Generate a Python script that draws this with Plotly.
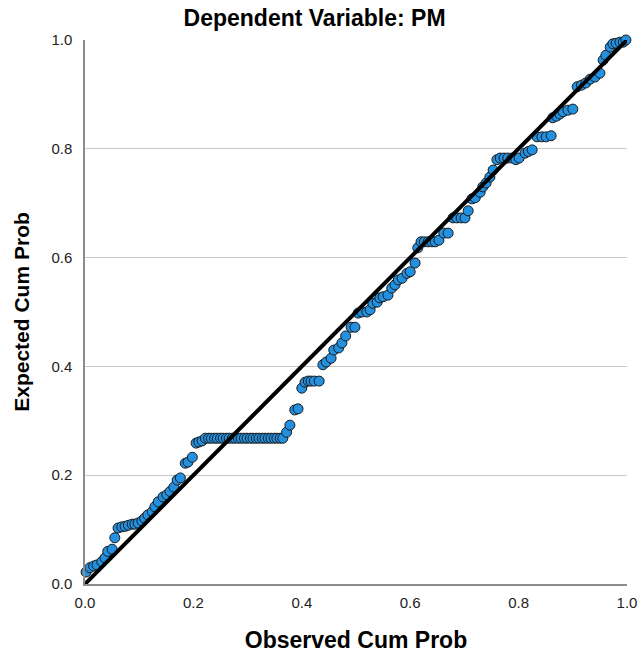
import plotly.graph_objects as go

# Observed cumulative probability (x) and expected cumulative probability (y)
observed_cum_prob = [
    0.002, 0.009, 0.016, 0.022, 0.031, 0.037, 0.042, 0.050, 0.055, 0.061,
    0.068, 0.074, 0.080, 0.087, 0.092, 0.098, 0.105, 0.110, 0.116, 0.124,
    0.129, 0.135, 0.144, 0.151, 0.157, 0.164, 0.170,
    0.176, 0.185, 0.190, 0.198, 0.205, 0.210, 0.216,
    0.222, 0.228, 0.233, 0.239, 0.244, 0.250, 0.255, 0.261, 0.266, 0.272,
    0.277, 0.283, 0.288, 0.294, 0.299, 0.305, 0.310, 0.316, 0.321, 0.327,
    0.332, 0.338, 0.343, 0.349, 0.354, 0.360, 0.365,
    0.372, 0.378, 0.387, 0.393, 0.400, 0.406, 0.412, 0.417, 0.423, 0.432,
    0.439, 0.445, 0.454, 0.459, 0.468, 0.474, 0.481, 0.491, 0.498, 0.504,
    0.511, 0.520, 0.526, 0.531, 0.539, 0.544, 0.550, 0.559, 0.566, 0.572,
    0.578, 0.585, 0.594, 0.600, 0.609,
    0.614, 0.620, 0.626, 0.633, 0.640, 0.646, 0.653, 0.662, 0.670, 0.679,
    0.686, 0.694, 0.701, 0.707, 0.714, 0.720, 0.729, 0.734, 0.740, 0.747,
    0.753, 0.760, 0.766, 0.773, 0.780, 0.788, 0.795, 0.801, 0.812, 0.818,
    0.825, 0.834, 0.843, 0.851, 0.860, 0.863, 0.870, 0.876, 0.882, 0.891,
    0.900, 0.908, 0.916, 0.924, 0.932, 0.941, 0.950, 0.956, 0.961, 0.969,
    0.974, 0.980, 0.987, 0.993, 0.998,
]
expected_cum_prob = [
    0.022, 0.030, 0.033, 0.035, 0.041, 0.048, 0.060, 0.064, 0.085, 0.103,
    0.105, 0.106, 0.108, 0.110, 0.110, 0.112, 0.116, 0.121, 0.127, 0.133,
    0.142, 0.151, 0.160, 0.164, 0.170, 0.178, 0.191,
    0.195, 0.222, 0.224, 0.233, 0.259, 0.261, 0.263,
    0.268, 0.268, 0.268, 0.268, 0.268, 0.268, 0.268, 0.268, 0.268, 0.268,
    0.268, 0.268, 0.268, 0.268, 0.268, 0.268, 0.268, 0.268, 0.268, 0.268,
    0.268, 0.268, 0.268, 0.268, 0.268, 0.268, 0.268,
    0.279, 0.292, 0.320, 0.322, 0.360, 0.371, 0.373, 0.373, 0.373, 0.373,
    0.403, 0.408, 0.415, 0.430, 0.434, 0.443, 0.456, 0.472, 0.472, 0.498,
    0.500, 0.500, 0.504, 0.516, 0.518, 0.526, 0.528, 0.531, 0.544, 0.550,
    0.559, 0.562, 0.571, 0.574, 0.590,
    0.618, 0.629, 0.629, 0.629, 0.629, 0.629, 0.632, 0.645, 0.645, 0.673,
    0.673, 0.673, 0.673, 0.686, 0.708, 0.710, 0.720, 0.730, 0.737, 0.748,
    0.761, 0.780, 0.783, 0.783, 0.783, 0.783, 0.780, 0.783, 0.792, 0.795,
    0.798, 0.822, 0.822, 0.822, 0.824, 0.857, 0.860, 0.864, 0.868, 0.871,
    0.873, 0.914, 0.917, 0.921, 0.928, 0.932, 0.939, 0.963, 0.972, 0.987,
    0.993, 0.994, 0.996, 0.996, 1.000,
]
reference_line = [0.0, 1.0]
tick_values = [0.0, 0.2, 0.4, 0.6, 0.8, 1.0]
tick_labels = ["0.0", "0.2", "0.4", "0.6", "0.8", "1.0"]

FONT = "Liberation Sans, Arial, sans-serif"

fig = go.Figure()
fig.add_trace(go.Scatter(
    x=observed_cum_prob, y=expected_cum_prob, mode="markers",
    marker=dict(size=10, color="#2391e0", line=dict(color="#1a1a1a", width=1)),
    cliponaxis=False, showlegend=False,
))
fig.add_trace(go.Scatter(
    x=reference_line, y=reference_line, mode="lines",
    line=dict(color="black", width=4), cliponaxis=False, showlegend=False,
))

fig.update_layout(
    width=642, height=662,
    margin=dict(l=85, r=15, t=40, b=78),
    paper_bgcolor="white", plot_bgcolor="white",
    font=dict(family=FONT, color="#222222"),
    title=dict(text="<b>Dependent Variable: PM</b>", x=0.49, xref="container",
               xanchor="center", y=0.973, yanchor="middle",
               font=dict(size=23, color="black")),
)
fig.update_xaxes(
    range=[0, 1], tickvals=tick_values, ticktext=tick_labels, automargin=False,
    showgrid=False, zeroline=False, showline=True, linecolor="#8c8c8c", linewidth=1.5,
    ticks="", tickfont=dict(size=15), ticklabelstandoff=4,
    title=dict(text="<b>Observed Cum Prob</b>", font=dict(size=23, color="black"), standoff=22),
)
fig.update_yaxes(
    range=[0, 1], tickvals=tick_values, ticktext=tick_labels, automargin=False,
    showgrid=True, gridcolor="#c8c8c8", gridwidth=1, zeroline=False,
    showline=True, linecolor="#8c8c8c", linewidth=1.5,
    ticks="", tickfont=dict(size=15), ticklabelstandoff=8,
    title=dict(text="<b>Expected Cum Prob</b>", font=dict(size=21, color="black"), standoff=16),
)

fig.write_html("out.html")
